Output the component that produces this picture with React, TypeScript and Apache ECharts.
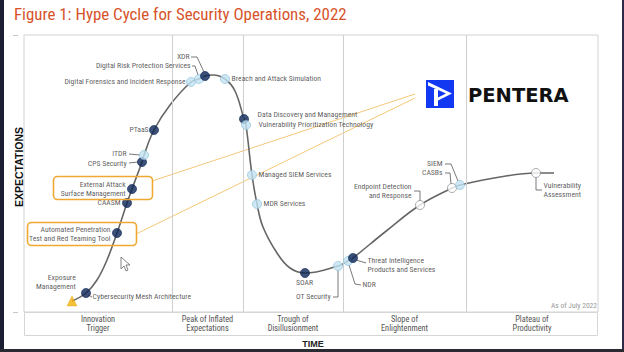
import React, { useEffect, useRef } from "react";
import * as echarts from "echarts";

const TITLE = "Figure 1: Hype Cycle for Security Operations, 2022";
const phaseNames = [
  "Innovation\nTrigger",
  "Peak of Inflated\nExpectations",
  "Trough of\nDisillusionment",
  "Slope of\nEnlightenment",
  "Plateau of\nProductivity",
];
// phase boundaries on the time axis (0..574)
const phaseBounds = [0, 148, 219, 319, 442, 574];

// hype curve (time, expectations)
const curveX = [48, 62, 73, 83, 93, 103, 108, 118, 120, 130, 146, 167, 175, 181, 189, 201, 211, 220, 222, 228, 233, 239, 253, 266, 281, 314, 324, 329, 361, 396, 428, 436, 476, 512, 530];
const curveY = [11, 19, 32, 52, 79, 109, 123, 150, 157, 182, 207, 230, 233, 236, 237, 233, 221, 193, 187, 137, 108, 85, 59, 44, 39, 46, 51, 54, 80, 107, 124, 127, 135, 139, 139];

const techNames = [
  "Exposure Management",
  "Cybersecurity Mesh Architecture",
  "Automated Penetration Test and Red Teaming Tool",
  "CAASM",
  "External Attack Surface Management",
  "CPS Security",
  "ITDR",
  "PTaaS",
  "Digital Forensics and Incident Response",
  "Digital Risk Protection Services",
  "XDR",
  "Breach and Attack Simulation",
  "Data Discovery and Management",
  "Vulnerability Prioritization Technology",
  "Managed SIEM Services",
  "MDR Services",
  "SOAR",
  "OT Security",
  "NDR",
  "Threat Intelligence Products and Services",
  "Endpoint Detection and Response",
  "CASBs",
  "SIEM",
  "Vulnerability Assessment",
];
const techLabels = [
  "Exposure\nManagement",
  "Cybersecurity Mesh Architecture",
  "Automated Penetration\nTest and Red Teaming Tool",
  "CAASM",
  "External Attack\nSurface Management",
  "CPS Security",
  "ITDR",
  "PTaaS",
  "Digital Forensics and Incident Response",
  "Digital Risk Protection Services",
  "XDR",
  "Breach and Attack Simulation",
  "Data Discovery and Management",
  "Vulnerability Prioritization Technology",
  "Managed SIEM Services",
  "MDR Services",
  "SOAR",
  "OT Security",
  "NDR",
  "Threat Intelligence\nProducts and Services",
  "Endpoint Detection\nand Response",
  "CASBs",
  "SIEM",
  "Vulnerability\nAssessment",
];
const techX = [48, 62, 93, 103, 108, 118, 120, 130, 167, 175, 181, 201, 220, 222, 228, 233, 281, 314, 324, 329, 396, 428, 436, 512];
const techY = [11, 19, 79, 109, 123, 150, 157, 182, 230, 233, 236, 233, 193, 187, 137, 108, 39, 46, 51, 54, 107, 124, 127, 139];
// time to plateau class
const techKind = ["tri", "navy", "navy", "navy", "navy", "navy", "blue", "navy", "blue", "blue", "navy", "blue", "navy", "blue", "blue", "blue", "navy", "blue", "blue", "navy", "white", "white", "blue", "white"];

// label layout: offset from marker centre (px) and alignment
const labelLayout: Record<string, [number, number, string]> = {
  "Exposure Management": [4, -18.5, "right"],
  "Cybersecurity Mesh Architecture": [7, 4, "left"],
  "Automated Penetration Test and Red Teaming Tool": [-6, 1.5, "right"],
  CAASM: [-6, 0, "right"],
  "External Attack Surface Management": [-6, 0, "right"],
  "CPS Security": [-15, 1.5, "right"],
  ITDR: [-17, -1.5, "right"],
  PTaaS: [-5, 0, "right"],
  "Digital Forensics and Incident Response": [-5, 0, "right"],
  "Digital Risk Protection Services": [-8, -13, "right"],
  XDR: [-15, -19, "right"],
  "Breach and Attack Simulation": [7, 0, "left"],
  "Data Discovery and Management": [14, -4, "left"],
  "Vulnerability Prioritization Technology": [13, 0, "left"],
  "Managed SIEM Services": [7, 0, "left"],
  "MDR Services": [7, 0, "left"],
  SOAR: [0, 10, "center"],
  "OT Security": [-7, 31, "right"],
  NDR: [15, 24, "left"],
  "Threat Intelligence Products and Services": [15, 7.5, "left"],
  "Endpoint Detection and Response": [-8, -13.5, "right"],
  CASBs: [-9, -15, "right"],
  SIEM: [-17, -21, "right"],
  "Vulnerability Assessment": [8, 17.5, "left"],
};
// leader lines: offsets from marker centre (px, y down)
const leaderLayout: Record<string, number[][]> = {
  "Cybersecurity Mesh Architecture": [[2, 2], [6, 4]],
  "CPS Security": [[-13, 1], [-4, 0]],
  ITDR: [[-15, -1], [-4, 0]],
  "Digital Risk Protection Services": [[-7, -13], [-4, -13], [-1, -4]],
  XDR: [[-14, -19], [-8, -19], [-1, -4]],
  "OT Security": [[-5, 31], [0, 31], [0, 4]],
  NDR: [[13, 24], [7, 23], [1, 4]],
  "Threat Intelligence Products and Services": [[3, 2], [13, 5]],
  "Endpoint Detection and Response": [[-6, -14], [0, -14], [0, -4]],
  SIEM: [[-15, -21], [-9, -21], [-2, -4]],
  CASBs: [[-7, -15], [-2, -15], [-1, -4]],
  "Vulnerability Assessment": [[0, 4], [0, 17], [6, 17]],
};

const FONT_N = "'Liberation Sans Narrow', 'Arial Narrow', 'Roboto Condensed', Roboto, sans-serif";
const GL = 24, GT = 35, GW = 574, GH = 277;

const kindStyle: Record<string, any> = {
  navy: { color: "#0c2656", borderColor: "#0c2656", borderWidth: 0.8 },
  blue: { color: "#c2e2f2", borderColor: "#8cbfd8", borderWidth: 0.8 },
  white: { color: "#ffffff", borderColor: "#8a8a8a", borderWidth: 0.9 },
  tri: { color: "#f2b20c", borderColor: "#e0a000", borderWidth: 0.5 },
};

export default function App() {
  const ref = useRef<HTMLDivElement>(null);
  useEffect(() => {
    if (!ref.current) return;
    const chart = echarts.init(ref.current, undefined, { renderer: "svg" });

    const scatterData = techNames.map((n, i) => {
      const kind = techKind[i];
      const size = kind === "tri" ? 10 : 9;
      const [ox, oy, al] = labelLayout[n];
      return {
        name: n,
        value: [techX[i], techY[i]],
        symbol: kind === "tri" ? "triangle" : "circle",
        symbolSize: size,
        itemStyle: kindStyle[kind],
        label: {
          show: true,
          formatter: techLabels[i],
          position: [ox + size / 2, oy + size / 2],
          align: al,
          verticalAlign: "middle",
          fontFamily: FONT_N,
          fontSize: 7.7,
          lineHeight: 9,
          color: "#333",
        },
      };
    });

    const leaderData: any[] = [];
    techNames.forEach((n, i) => {
      const l = leaderLayout[n];
      if (!l) return;
      leaderData.push({ coords: l.map(([dx, dy]) => [techX[i] + dx, techY[i] - dy]) });
    });

    const graphics: any[] = [];
    // title
    graphics.push({
      type: "text", x: 14, y: 14,
      style: { text: TITLE, fontFamily: FONT_N, fontSize: 16.9, fill: "#d6532a", align: "left", verticalAlign: "middle" },
    });
    // phase box
    graphics.push({ type: "rect", shape: { x: GL + 0.5, y: GT + GH + 0.5, width: GW - 1, height: 23 }, style: { fill: "none", stroke: "#d6d6d6", lineWidth: 1 } });
    phaseNames.forEach((p, i) => {
      const cx = GL + (phaseBounds[i] + phaseBounds[i + 1]) / 2;
      graphics.push({
        type: "text", x: cx, y: 323.5,
        style: { text: p, fontFamily: FONT_N, fontSize: 8.3, lineHeight: 9, fill: "#555", align: "center", verticalAlign: "middle" },
      });
    });
    graphics.push({ type: "text", x: 313, y: 344, style: { text: "TIME", fontFamily: "'Liberation Sans', Arial, sans-serif", fontWeight: "bold", fontSize: 9, fill: "#222", align: "center", verticalAlign: "middle" } });
    graphics.push({ type: "text", x: 19, y: 167, rotation: Math.PI / 2, style: { text: "EXPECTATIONS", fontFamily: "'Liberation Sans', Arial, sans-serif", fontWeight: "bold", fontSize: 10.5, fill: "#111", align: "center", verticalAlign: "middle" } });
    graphics.push({ type: "text", x: 597, y: 305, style: { text: "As of July 2022", fontFamily: FONT_N, fontSize: 7.5, fill: "#9a9a9a", align: "right", verticalAlign: "middle" } });
    // small axis dashes
    graphics.push({ type: "line", shape: { x1: 13, y1: 35.5, x2: 18, y2: 35.5 }, style: { stroke: "#c8c8c8", lineWidth: 1 } });
    graphics.push({ type: "line", shape: { x1: 13, y1: 312.5, x2: 18, y2: 312.5 }, style: { stroke: "#c8c8c8", lineWidth: 1 } });
    // orange highlight boxes and connectors
    graphics.push({ type: "line", shape: { x1: 152, y1: 181, x2: 415, y2: 94 }, style: { stroke: "#f6c77a", lineWidth: 1 }, z: 1 });
    graphics.push({ type: "line", shape: { x1: 136, y1: 234, x2: 415, y2: 98 }, style: { stroke: "#f6c77a", lineWidth: 1 }, z: 1 });
    graphics.push({ type: "rect", shape: { x: 53.5, y: 176.5, width: 99, height: 23, r: 4 }, style: { fill: "none", stroke: "#f0a832", lineWidth: 1.6 }, z: 20 });
    graphics.push({ type: "rect", shape: { x: 27.5, y: 222.5, width: 109, height: 23, r: 4 }, style: { fill: "none", stroke: "#f0a832", lineWidth: 1.6 }, z: 20 });
    // Pentera logo
    graphics.push({
      type: "group", x: 426, y: 80, z: 20,
      children: [
        { type: "rect", shape: { x: 0, y: 0, width: 28, height: 28 }, style: { fill: "#1238f2" } },
        { type: "polygon", shape: { points: [[2, 2], [26, 13.5], [12, 20.5], [12, 17.5], [20, 13.5], [2, 5.5]] }, style: { fill: "#ffffff" } },
        { type: "rect", shape: { x: 8, y: 9, width: 4, height: 17 }, style: { fill: "#ffffff" } },
      ],
    });
    graphics.push({ type: "text", x: 468, y: 95, z: 20, style: { text: "PENTERA", fontFamily: "'DejaVu Sans', sans-serif", fontWeight: "bold", fontSize: 19.5, fill: "#111", align: "left", verticalAlign: "middle" } });
    // mouse cursor in screenshot
    graphics.push({ type: "polygon", z: 20, shape: { points: [[121, 257], [121, 269], [124, 266], [126, 271], [128, 270], [126, 265], [130, 265]] }, style: { fill: "#fff", stroke: "#666", lineWidth: 0.8 } });
    // screenshot frame
    graphics.push({ type: "rect", z: 30, shape: { x: 0, y: 0, width: 4, height: 352 }, style: { fill: "#1c1f32" } });
    graphics.push({ type: "rect", z: 30, shape: { x: 622, y: 0, width: 2, height: 352 }, style: { fill: "#2f2b48" } });
    graphics.push({ type: "rect", z: 30, shape: { x: 0, y: 349, width: 624, height: 3 }, style: { fill: "#2a2a33" } });

    chart.setOption({
      animation: false,
      backgroundColor: "#ffffff",
      grid: { left: GL, top: GT, width: GW, height: GH, show: true, borderColor: "#d2d2d2", borderWidth: 1, backgroundColor: "transparent" },
      xAxis: { type: "value", min: 0, max: GW, show: false },
      yAxis: { type: "value", min: 0, max: GH, show: false },
      series: [
        {
          type: "line",
          data: curveX.map((x, i) => [x, curveY[i]]),
          smooth: 0.4,
          showSymbol: false,
          silent: true,
          lineStyle: { color: "#666", width: 1.6 },
          z: 2,
          markLine: {
            silent: true,
            symbol: ["none", "none"],
            label: { show: false },
            lineStyle: { color: "#cfcfcf", type: "solid", width: 1 },
            data: phaseBounds.slice(1, -1).map((b) => ({ xAxis: b })),
          },
        },
        {
          type: "lines",
          coordinateSystem: "cartesian2d",
          polyline: true,
          silent: true,
          data: leaderData,
          lineStyle: { color: "#555", width: 0.8, opacity: 1 },
          z: 3,
        },
        {
          type: "scatter",
          data: scatterData,
          silent: true,
          z: 5,
        },
      ],
      graphic: graphics,
    });
    return () => chart.dispose();
  }, []);
  return <div ref={ref} style={{ position: "absolute", left: 0, top: 0, width: 624, height: 352 }} />;
}
